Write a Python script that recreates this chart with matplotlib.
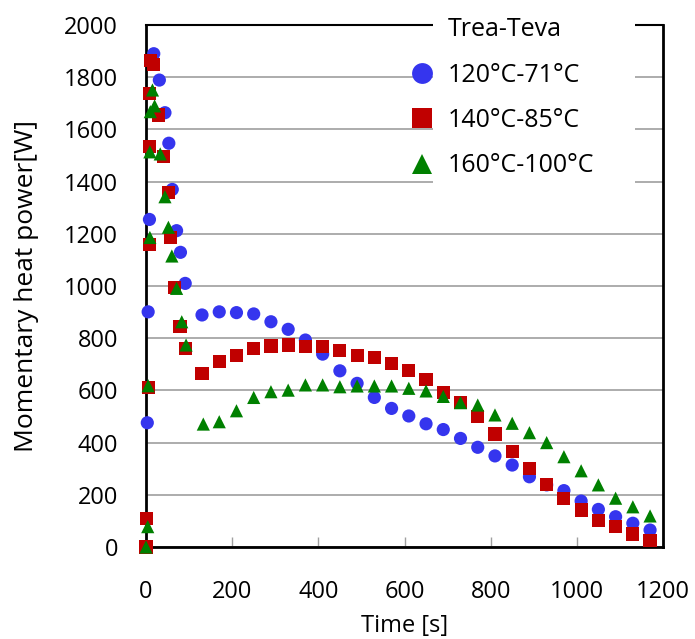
import matplotlib
matplotlib.use("Agg")
import matplotlib.pyplot as plt
from matplotlib.lines import Line2D
from matplotlib.patches import Rectangle

plt.rcParams['font.family'] = ['Open Sans', 'DejaVu Sans']

# ---- data ----
t_blue = [0, 3, 5, 8, 18, 31, 44, 53, 61, 71, 80, 91,
          130, 170, 210, 250, 290, 330, 370, 410, 450, 490, 530, 570, 610,
          650, 690, 730, 770, 810, 850, 890, 930, 970, 1010, 1050, 1090, 1130, 1170]
p_blue = [0, 476, 901, 1255, 1890, 1789, 1664, 1547, 1370, 1212, 1129, 1010,
          889, 901, 898, 893, 863, 834, 793, 739, 675, 627, 573, 531, 502,
          472, 450, 416, 382, 349, 314, 269, 238, 216, 176, 144, 116, 91, 65]

t_red = [0, 2, 5, 8, 9, 8, 10, 18, 29, 40, 52, 57, 67, 79, 91,
         130, 170, 210, 250, 290, 330, 370, 410, 450, 490, 530, 570, 610,
         650, 690, 730, 770, 810, 850, 890, 930, 970, 1010, 1050, 1090, 1130, 1170]
p_red = [0, 110, 612, 1160, 1534, 1738, 1865, 1850, 1655, 1495, 1357, 1185, 995, 844, 761,
         665, 710, 735, 761, 770, 774, 767, 767, 752, 735, 727, 704, 675,
         642, 593, 553, 499, 433, 365, 301, 238, 187, 142, 103, 78, 50, 24]

t_green = [0, 4, 5, 9, 9, 10, 15, 20, 33, 44, 52, 60, 71, 83, 93,
           133, 170, 210, 250, 290, 330, 370, 410, 450, 490, 530, 570, 610,
           650, 690, 730, 770, 810, 850, 890, 930, 970, 1010, 1050, 1090, 1130, 1170]
p_green = [0, 78, 618, 1186, 1514, 1668, 1751, 1690, 1506, 1342, 1225, 1115, 991, 863, 774,
           471, 480, 522, 573, 595, 601, 621, 621, 614, 617, 617, 617, 608,
           598, 577, 553, 544, 506, 474, 438, 400, 346, 292, 238, 187, 154, 119]

labels = ['120°C-71°C', '140°C-85°C', '160°C-100°C']
legend_title = 'Trea-Teva'
x_ticks = [0, 200, 400, 600, 800, 1000, 1200]
y_ticks = [0, 200, 400, 600, 800, 1000, 1200, 1400, 1600, 1800, 2000]

c_blue, c_red, c_green = '#3535EE', '#C00000', '#008000'

fig = plt.figure(figsize=(6.95, 6.39), dpi=100)
ax = fig.add_axes([146/695, 1-547/639, (663-146)/695, (547-25)/639])

ms = 90
ax.scatter(t_blue, p_blue, s=ms, marker='o', color=c_blue, edgecolors='none', zorder=4, clip_on=False)
ax.scatter(t_red, p_red, s=ms, marker='s', color=c_red, edgecolors='none', zorder=4, clip_on=False)
ax.scatter(t_green, p_green, s=ms, marker='^', color=c_green, edgecolors='none', zorder=4, clip_on=False)

ax.set_xlim(0, 1200)
ax.set_ylim(0, 2000)
ax.set_xticks(x_ticks)
ax.set_yticks(y_ticks)
ax.yaxis.grid(True, color='#a6a6a6', linewidth=1.3)
ax.set_axisbelow(True)

ax.tick_params(axis='x', direction='in', length=7, width=1, color='#a0a0a0',
               labelsize=17, pad=24)
ax.tick_params(axis='y', length=0, labelsize=17, pad=20)

for side, lw in [('left', 2), ('bottom', 2), ('right', 2), ('top', 1.5)]:
    ax.spines[side].set_color('black')
    ax.spines[side].set_linewidth(lw)

ax.set_ylabel('Momentary heat power[W]', fontsize=19)
ax.yaxis.set_label_coords(-0.206, 0.5)
ax.set_xlabel('Time [s]', fontsize=17)
ax.xaxis.set_label_coords(0.5, -0.128)

# white legend area covering grid and top spine
rect = Rectangle((433/695, 1-190/639), (635-433)/695, 190/639, transform=fig.transFigure,
                 facecolor='white', edgecolor='none', zorder=3, clip_on=False)
ax.add_patch(rect)

handles = [Line2D([], [], linestyle='none', marker=None),
           Line2D([], [], linestyle='none', marker='o', color=c_blue, markersize=15, markeredgewidth=0),
           Line2D([], [], linestyle='none', marker='s', color=c_red, markersize=14, markeredgewidth=0),
           Line2D([], [], linestyle='none', marker='^', color=c_green, markersize=15, markeredgewidth=0)]
leg = ax.legend(handles, [legend_title] + labels, loc='upper left',
                bbox_to_anchor=(409.5/695, 1-17/639), bbox_transform=fig.transFigure,
                frameon=False, fontsize=18, borderpad=0, borderaxespad=0,
                handlelength=1.0, handletextpad=0.54, labelspacing=0.82)
leg.set_zorder(6)

fig.savefig('out.png', dpi=100)
